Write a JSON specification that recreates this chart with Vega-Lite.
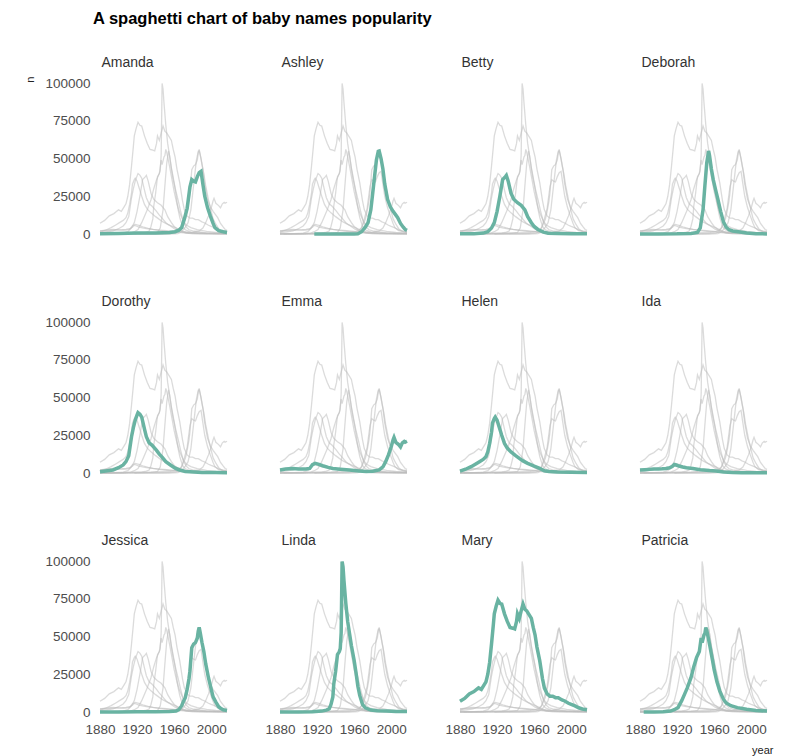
{
  "$schema": "https://vega.github.io/schema/vega-lite/v6.json",
  "padding": {"left": 24, "top": 10, "right": 8, "bottom": 4},
  "background": "white",
  "title": {"text": "A spaghetti chart of baby names popularity", "fontSize": 16.5, "fontWeight": "bold", "color": "#000000", "anchor": "start", "frame": "group", "dx": -7, "offset": 28},
  "data": {"values": [
    {"name":"Amanda","year":1880,"n":200},{"name":"Amanda","year":1900,"n":300},{"name":"Amanda","year":1920,"n":600},{"name":"Amanda","year":1940,"n":700},{"name":"Amanda","year":1955,"n":1000},{"name":"Amanda","year":1961,"n":1500},{"name":"Amanda","year":1965,"n":2500},{"name":"Amanda","year":1968,"n":4200},{"name":"Amanda","year":1971,"n":10000},{"name":"Amanda","year":1974,"n":17000},{"name":"Amanda","year":1977,"n":31000},{"name":"Amanda","year":1979,"n":36000},{"name":"Amanda","year":1981,"n":35000},{"name":"Amanda","year":1983,"n":34500},{"name":"Amanda","year":1985,"n":38000},{"name":"Amanda","year":1987,"n":40600},{"name":"Amanda","year":1989,"n":41500},{"name":"Amanda","year":1991,"n":33000},{"name":"Amanda","year":1993,"n":25000},{"name":"Amanda","year":1996,"n":17500},{"name":"Amanda","year":1999,"n":12000},{"name":"Amanda","year":2002,"n":7000},{"name":"Amanda","year":2004,"n":4200},{"name":"Amanda","year":2008,"n":2200},{"name":"Amanda","year":2013,"n":1500},{"name":"Amanda","year":2017,"n":1000},
    {"name":"Ashley","year":1917,"n":5},{"name":"Ashley","year":1930,"n":10},{"name":"Ashley","year":1950,"n":15},{"name":"Ashley","year":1960,"n":50},{"name":"Ashley","year":1964,"n":200},{"name":"Ashley","year":1968,"n":1500},{"name":"Ashley","year":1972,"n":4500},{"name":"Ashley","year":1975,"n":7500},{"name":"Ashley","year":1978,"n":16000},{"name":"Ashley","year":1980,"n":27000},{"name":"Ashley","year":1982,"n":38000},{"name":"Ashley","year":1984,"n":49000},{"name":"Ashley","year":1986,"n":54800},{"name":"Ashley","year":1987,"n":55000},{"name":"Ashley","year":1989,"n":50000},{"name":"Ashley","year":1991,"n":43000},{"name":"Ashley","year":1993,"n":33000},{"name":"Ashley","year":1996,"n":23000},{"name":"Ashley","year":1999,"n":18000},{"name":"Ashley","year":2002,"n":15000},{"name":"Ashley","year":2005,"n":12500},{"name":"Ashley","year":2007,"n":10800},{"name":"Ashley","year":2010,"n":7000},{"name":"Ashley","year":2013,"n":4500},{"name":"Ashley","year":2015,"n":3000},{"name":"Ashley","year":2017,"n":2400},
    {"name":"Betty","year":1880,"n":100},{"name":"Betty","year":1895,"n":200},{"name":"Betty","year":1905,"n":600},{"name":"Betty","year":1910,"n":1500},{"name":"Betty","year":1914,"n":4000},{"name":"Betty","year":1917,"n":7500},{"name":"Betty","year":1920,"n":15000},{"name":"Betty","year":1923,"n":25000},{"name":"Betty","year":1926,"n":36000},{"name":"Betty","year":1929,"n":38000},{"name":"Betty","year":1930,"n":38800},{"name":"Betty","year":1932,"n":35000},{"name":"Betty","year":1935,"n":27000},{"name":"Betty","year":1938,"n":23000},{"name":"Betty","year":1942,"n":20700},{"name":"Betty","year":1946,"n":19000},{"name":"Betty","year":1950,"n":16000},{"name":"Betty","year":1953,"n":11500},{"name":"Betty","year":1957,"n":7500},{"name":"Betty","year":1960,"n":5000},{"name":"Betty","year":1964,"n":3000},{"name":"Betty","year":1970,"n":1200},{"name":"Betty","year":1975,"n":500},{"name":"Betty","year":1985,"n":300},{"name":"Betty","year":2000,"n":150},{"name":"Betty","year":2017,"n":100},
    {"name":"Deborah","year":1880,"n":5},{"name":"Deborah","year":1900,"n":10},{"name":"Deborah","year":1920,"n":100},{"name":"Deborah","year":1935,"n":400},{"name":"Deborah","year":1942,"n":1000},{"name":"Deborah","year":1945,"n":4000},{"name":"Deborah","year":1948,"n":16000},{"name":"Deborah","year":1950,"n":32000},{"name":"Deborah","year":1952,"n":47000},{"name":"Deborah","year":1954,"n":55000},{"name":"Deborah","year":1955,"n":52000},{"name":"Deborah","year":1957,"n":43000},{"name":"Deborah","year":1959,"n":36000},{"name":"Deborah","year":1962,"n":28000},{"name":"Deborah","year":1964,"n":23000},{"name":"Deborah","year":1967,"n":15000},{"name":"Deborah","year":1970,"n":8000},{"name":"Deborah","year":1973,"n":4500},{"name":"Deborah","year":1976,"n":2800},{"name":"Deborah","year":1980,"n":2000},{"name":"Deborah","year":1986,"n":1500},{"name":"Deborah","year":1995,"n":600},{"name":"Deborah","year":2005,"n":200},{"name":"Deborah","year":2017,"n":80},
    {"name":"Dorothy","year":1880,"n":900},{"name":"Dorothy","year":1888,"n":1500},{"name":"Dorothy","year":1894,"n":2000},{"name":"Dorothy","year":1900,"n":3500},{"name":"Dorothy","year":1905,"n":5300},{"name":"Dorothy","year":1908,"n":7500},{"name":"Dorothy","year":1911,"n":11500},{"name":"Dorothy","year":1914,"n":24000},{"name":"Dorothy","year":1916,"n":30000},{"name":"Dorothy","year":1918,"n":35000},{"name":"Dorothy","year":1920,"n":38500},{"name":"Dorothy","year":1921,"n":40000},{"name":"Dorothy","year":1923,"n":39000},{"name":"Dorothy","year":1925,"n":37000},{"name":"Dorothy","year":1928,"n":29000},{"name":"Dorothy","year":1930,"n":24000},{"name":"Dorothy","year":1933,"n":20000},{"name":"Dorothy","year":1936,"n":18500},{"name":"Dorothy","year":1941,"n":15000},{"name":"Dorothy","year":1944,"n":12500},{"name":"Dorothy","year":1947,"n":10500},{"name":"Dorothy","year":1951,"n":7500},{"name":"Dorothy","year":1956,"n":5300},{"name":"Dorothy","year":1961,"n":3200},{"name":"Dorothy","year":1966,"n":2000},{"name":"Dorothy","year":1972,"n":1000},{"name":"Dorothy","year":1977,"n":800},{"name":"Dorothy","year":1990,"n":400},{"name":"Dorothy","year":2005,"n":250},{"name":"Dorothy","year":2017,"n":200},
    {"name":"Emma","year":1880,"n":2000},{"name":"Emma","year":1886,"n":2600},{"name":"Emma","year":1894,"n":3000},{"name":"Emma","year":1900,"n":2700},{"name":"Emma","year":1908,"n":2600},{"name":"Emma","year":1912,"n":3000},{"name":"Emma","year":1915,"n":5500},{"name":"Emma","year":1918,"n":6400},{"name":"Emma","year":1922,"n":5700},{"name":"Emma","year":1926,"n":4800},{"name":"Emma","year":1932,"n":3700},{"name":"Emma","year":1937,"n":3000},{"name":"Emma","year":1945,"n":2500},{"name":"Emma","year":1955,"n":2000},{"name":"Emma","year":1965,"n":1400},{"name":"Emma","year":1973,"n":1000},{"name":"Emma","year":1980,"n":1200},{"name":"Emma","year":1987,"n":2000},{"name":"Emma","year":1991,"n":4000},{"name":"Emma","year":1994,"n":7500},{"name":"Emma","year":1997,"n":12000},{"name":"Emma","year":2000,"n":17400},{"name":"Emma","year":2002,"n":22000},{"name":"Emma","year":2003,"n":23600},{"name":"Emma","year":2005,"n":20300},{"name":"Emma","year":2008,"n":18800},{"name":"Emma","year":2010,"n":17300},{"name":"Emma","year":2012,"n":20000},{"name":"Emma","year":2014,"n":20900},{"name":"Emma","year":2015,"n":20400},{"name":"Emma","year":2017,"n":21000},
    {"name":"Helen","year":1880,"n":1200},{"name":"Helen","year":1886,"n":2500},{"name":"Helen","year":1892,"n":4200},{"name":"Helen","year":1897,"n":6000},{"name":"Helen","year":1901,"n":7500},{"name":"Helen","year":1905,"n":9000},{"name":"Helen","year":1908,"n":10800},{"name":"Helen","year":1910,"n":14000},{"name":"Helen","year":1912,"n":19600},{"name":"Helen","year":1914,"n":27000},{"name":"Helen","year":1915,"n":33000},{"name":"Helen","year":1917,"n":36000},{"name":"Helen","year":1918,"n":37000},{"name":"Helen","year":1920,"n":35000},{"name":"Helen","year":1922,"n":31000},{"name":"Helen","year":1925,"n":25000},{"name":"Helen","year":1928,"n":19600},{"name":"Helen","year":1931,"n":16500},{"name":"Helen","year":1935,"n":14000},{"name":"Helen","year":1940,"n":11500},{"name":"Helen","year":1944,"n":9700},{"name":"Helen","year":1948,"n":8000},{"name":"Helen","year":1953,"n":6400},{"name":"Helen","year":1960,"n":4500},{"name":"Helen","year":1966,"n":3000},{"name":"Helen","year":1971,"n":1500},{"name":"Helen","year":1976,"n":1000},{"name":"Helen","year":1985,"n":700},{"name":"Helen","year":2000,"n":500},{"name":"Helen","year":2017,"n":400},
    {"name":"Ida","year":1880,"n":2000},{"name":"Ida","year":1885,"n":2200},{"name":"Ida","year":1890,"n":2400},{"name":"Ida","year":1895,"n":2600},{"name":"Ida","year":1900,"n":2700},{"name":"Ida","year":1904,"n":2800},{"name":"Ida","year":1908,"n":3000},{"name":"Ida","year":1912,"n":3500},{"name":"Ida","year":1915,"n":4500},{"name":"Ida","year":1917,"n":5700},{"name":"Ida","year":1919,"n":5300},{"name":"Ida","year":1922,"n":4600},{"name":"Ida","year":1926,"n":4000},{"name":"Ida","year":1930,"n":3500},{"name":"Ida","year":1937,"n":3000},{"name":"Ida","year":1945,"n":2200},{"name":"Ida","year":1955,"n":1600},{"name":"Ida","year":1962,"n":1300},{"name":"Ida","year":1970,"n":700},{"name":"Ida","year":1980,"n":300},{"name":"Ida","year":1990,"n":150},{"name":"Ida","year":2000,"n":100},{"name":"Ida","year":2010,"n":100},{"name":"Ida","year":2017,"n":150},
    {"name":"Jessica","year":1880,"n":50},{"name":"Jessica","year":1900,"n":50},{"name":"Jessica","year":1920,"n":100},{"name":"Jessica","year":1940,"n":150},{"name":"Jessica","year":1955,"n":300},{"name":"Jessica","year":1962,"n":600},{"name":"Jessica","year":1965,"n":1500},{"name":"Jessica","year":1968,"n":4000},{"name":"Jessica","year":1970,"n":7000},{"name":"Jessica","year":1972,"n":9500},{"name":"Jessica","year":1974,"n":15000},{"name":"Jessica","year":1976,"n":22000},{"name":"Jessica","year":1977,"n":27000},{"name":"Jessica","year":1979,"n":42600},{"name":"Jessica","year":1981,"n":45000},{"name":"Jessica","year":1983,"n":46000},{"name":"Jessica","year":1985,"n":49000},{"name":"Jessica","year":1986,"n":53600},{"name":"Jessica","year":1987,"n":56000},{"name":"Jessica","year":1988,"n":53000},{"name":"Jessica","year":1990,"n":46000},{"name":"Jessica","year":1992,"n":40000},{"name":"Jessica","year":1994,"n":32000},{"name":"Jessica","year":1997,"n":22700},{"name":"Jessica","year":2000,"n":15000},{"name":"Jessica","year":2002,"n":10000},{"name":"Jessica","year":2005,"n":6500},{"name":"Jessica","year":2008,"n":3500},{"name":"Jessica","year":2010,"n":2500},{"name":"Jessica","year":2013,"n":1500},{"name":"Jessica","year":2017,"n":1000},
    {"name":"Linda","year":1880,"n":30},{"name":"Linda","year":1900,"n":60},{"name":"Linda","year":1915,"n":200},{"name":"Linda","year":1925,"n":600},{"name":"Linda","year":1930,"n":1200},{"name":"Linda","year":1933,"n":2000},{"name":"Linda","year":1935,"n":5000},{"name":"Linda","year":1937,"n":10000},{"name":"Linda","year":1938,"n":18500},{"name":"Linda","year":1940,"n":27000},{"name":"Linda","year":1942,"n":38000},{"name":"Linda","year":1944,"n":40000},{"name":"Linda","year":1945,"n":42000},{"name":"Linda","year":1946,"n":52700},{"name":"Linda","year":1947,"n":99700},{"name":"Linda","year":1948,"n":96000},{"name":"Linda","year":1949,"n":87000},{"name":"Linda","year":1951,"n":72000},{"name":"Linda","year":1953,"n":60000},{"name":"Linda","year":1955,"n":52000},{"name":"Linda","year":1957,"n":44000},{"name":"Linda","year":1960,"n":34000},{"name":"Linda","year":1962,"n":26000},{"name":"Linda","year":1964,"n":17000},{"name":"Linda","year":1966,"n":11000},{"name":"Linda","year":1969,"n":5000},{"name":"Linda","year":1972,"n":2800},{"name":"Linda","year":1978,"n":1300},{"name":"Linda","year":1985,"n":900},{"name":"Linda","year":1995,"n":600},{"name":"Linda","year":2005,"n":400},{"name":"Linda","year":2017,"n":250},
    {"name":"Mary","year":1880,"n":7100},{"name":"Mary","year":1885,"n":9000},{"name":"Mary","year":1890,"n":12000},{"name":"Mary","year":1895,"n":13500},{"name":"Mary","year":1900,"n":16000},{"name":"Mary","year":1903,"n":15000},{"name":"Mary","year":1906,"n":18000},{"name":"Mary","year":1908,"n":20000},{"name":"Mary","year":1910,"n":25000},{"name":"Mary","year":1912,"n":33000},{"name":"Mary","year":1914,"n":45000},{"name":"Mary","year":1916,"n":58000},{"name":"Mary","year":1917,"n":65000},{"name":"Mary","year":1919,"n":70000},{"name":"Mary","year":1921,"n":74000},{"name":"Mary","year":1923,"n":72000},{"name":"Mary","year":1925,"n":71500},{"name":"Mary","year":1928,"n":65000},{"name":"Mary","year":1931,"n":60000},{"name":"Mary","year":1934,"n":56000},{"name":"Mary","year":1937,"n":55500},{"name":"Mary","year":1939,"n":55000},{"name":"Mary","year":1941,"n":60000},{"name":"Mary","year":1942,"n":65000},{"name":"Mary","year":1944,"n":62000},{"name":"Mary","year":1946,"n":67000},{"name":"Mary","year":1948,"n":71500},{"name":"Mary","year":1950,"n":68000},{"name":"Mary","year":1952,"n":67000},{"name":"Mary","year":1955,"n":64000},{"name":"Mary","year":1957,"n":62000},{"name":"Mary","year":1959,"n":56000},{"name":"Mary","year":1961,"n":51000},{"name":"Mary","year":1963,"n":43000},{"name":"Mary","year":1966,"n":34000},{"name":"Mary","year":1969,"n":22000},{"name":"Mary","year":1971,"n":16000},{"name":"Mary","year":1974,"n":12000},{"name":"Mary","year":1977,"n":10500},{"name":"Mary","year":1980,"n":10500},{"name":"Mary","year":1983,"n":9500},{"name":"Mary","year":1986,"n":9500},{"name":"Mary","year":1990,"n":8000},{"name":"Mary","year":1993,"n":7300},{"name":"Mary","year":1997,"n":5800},{"name":"Mary","year":2000,"n":5000},{"name":"Mary","year":2004,"n":4000},{"name":"Mary","year":2008,"n":2800},{"name":"Mary","year":2012,"n":2000},{"name":"Mary","year":2015,"n":1700},{"name":"Mary","year":2017,"n":1500},
    {"name":"Patricia","year":1884,"n":10},{"name":"Patricia","year":1895,"n":30},{"name":"Patricia","year":1905,"n":150},{"name":"Patricia","year":1913,"n":600},{"name":"Patricia","year":1917,"n":1500},{"name":"Patricia","year":1921,"n":2900},{"name":"Patricia","year":1925,"n":7500},{"name":"Patricia","year":1928,"n":11700},{"name":"Patricia","year":1931,"n":16000},{"name":"Patricia","year":1935,"n":22700},{"name":"Patricia","year":1938,"n":30000},{"name":"Patricia","year":1941,"n":36000},{"name":"Patricia","year":1944,"n":40000},{"name":"Patricia","year":1946,"n":49000},{"name":"Patricia","year":1947,"n":46000},{"name":"Patricia","year":1949,"n":51000},{"name":"Patricia","year":1950,"n":52000},{"name":"Patricia","year":1951,"n":56000},{"name":"Patricia","year":1952,"n":54000},{"name":"Patricia","year":1955,"n":45000},{"name":"Patricia","year":1958,"n":35000},{"name":"Patricia","year":1960,"n":28000},{"name":"Patricia","year":1963,"n":20000},{"name":"Patricia","year":1966,"n":14000},{"name":"Patricia","year":1970,"n":8500},{"name":"Patricia","year":1973,"n":6000},{"name":"Patricia","year":1978,"n":4200},{"name":"Patricia","year":1985,"n":2900},{"name":"Patricia","year":1995,"n":1800},{"name":"Patricia","year":2005,"n":1000},{"name":"Patricia","year":2017,"n":600}
  ]},
  "columns": 4,
  "bounds": "flush",
  "spacing": {"column": 53, "row": 88},
  "concat": [
    {"width": 127, "height": 151,
     "encoding": {"x": {"field": "year", "type": "quantitative", "scale": {"domain": [1880, 2017], "nice": false, "zero": false}, "axis": {"orient": "top", "labels": false, "title": "n", "titleX": -70, "titleY": -7, "titleAlign": "right", "titleBaseline": "middle", "titleAngle": 270, "titleFontSize": 11, "titleColor": "#222222"}},
                  "y": {"field": "n", "type": "quantitative", "scale": {"domain": [0, 100000], "nice": false}, "axis": {"title": "Amanda", "values": [0, 25000, 50000, 75000, 100000], "format": "d"}}},
     "layer": [
       {"mark": {"type": "line", "color": "#bebebe", "opacity": 0.55, "strokeWidth": 1.3}, "encoding": {"detail": {"field": "name"}}},
       {"transform": [{"filter": "datum.name === 'Amanda'"}], "mark": {"type": "line", "color": "#69b3a2", "strokeWidth": 3.5}}
     ]},
    {"width": 127, "height": 151,
     "encoding": {"x": {"field": "year", "type": "quantitative", "scale": {"domain": [1880, 2017], "nice": false, "zero": false}, "axis": null},
                  "y": {"field": "n", "type": "quantitative", "scale": {"domain": [0, 100000], "nice": false}, "axis": {"title": "Ashley", "labels": false}}},
     "layer": [
       {"mark": {"type": "line", "color": "#bebebe", "opacity": 0.55, "strokeWidth": 1.3}, "encoding": {"detail": {"field": "name"}}},
       {"transform": [{"filter": "datum.name === 'Ashley'"}], "mark": {"type": "line", "color": "#69b3a2", "strokeWidth": 3.5}}
     ]},
    {"width": 127, "height": 151,
     "encoding": {"x": {"field": "year", "type": "quantitative", "scale": {"domain": [1880, 2017], "nice": false, "zero": false}, "axis": null},
                  "y": {"field": "n", "type": "quantitative", "scale": {"domain": [0, 100000], "nice": false}, "axis": {"title": "Betty", "labels": false}}},
     "layer": [
       {"mark": {"type": "line", "color": "#bebebe", "opacity": 0.55, "strokeWidth": 1.3}, "encoding": {"detail": {"field": "name"}}},
       {"transform": [{"filter": "datum.name === 'Betty'"}], "mark": {"type": "line", "color": "#69b3a2", "strokeWidth": 3.5}}
     ]},
    {"width": 127, "height": 151,
     "encoding": {"x": {"field": "year", "type": "quantitative", "scale": {"domain": [1880, 2017], "nice": false, "zero": false}, "axis": null},
                  "y": {"field": "n", "type": "quantitative", "scale": {"domain": [0, 100000], "nice": false}, "axis": {"title": "Deborah", "labels": false}}},
     "layer": [
       {"mark": {"type": "line", "color": "#bebebe", "opacity": 0.55, "strokeWidth": 1.3}, "encoding": {"detail": {"field": "name"}}},
       {"transform": [{"filter": "datum.name === 'Deborah'"}], "mark": {"type": "line", "color": "#69b3a2", "strokeWidth": 3.5}}
     ]},
    {"width": 127, "height": 151,
     "encoding": {"x": {"field": "year", "type": "quantitative", "scale": {"domain": [1880, 2017], "nice": false, "zero": false}, "axis": null},
                  "y": {"field": "n", "type": "quantitative", "scale": {"domain": [0, 100000], "nice": false}, "axis": {"title": "Dorothy", "values": [0, 25000, 50000, 75000, 100000], "format": "d"}}},
     "layer": [
       {"mark": {"type": "line", "color": "#bebebe", "opacity": 0.55, "strokeWidth": 1.3}, "encoding": {"detail": {"field": "name"}}},
       {"transform": [{"filter": "datum.name === 'Dorothy'"}], "mark": {"type": "line", "color": "#69b3a2", "strokeWidth": 3.5}}
     ]},
    {"width": 127, "height": 151,
     "encoding": {"x": {"field": "year", "type": "quantitative", "scale": {"domain": [1880, 2017], "nice": false, "zero": false}, "axis": null},
                  "y": {"field": "n", "type": "quantitative", "scale": {"domain": [0, 100000], "nice": false}, "axis": {"title": "Emma", "labels": false}}},
     "layer": [
       {"mark": {"type": "line", "color": "#bebebe", "opacity": 0.55, "strokeWidth": 1.3}, "encoding": {"detail": {"field": "name"}}},
       {"transform": [{"filter": "datum.name === 'Emma'"}], "mark": {"type": "line", "color": "#69b3a2", "strokeWidth": 3.5}}
     ]},
    {"width": 127, "height": 151,
     "encoding": {"x": {"field": "year", "type": "quantitative", "scale": {"domain": [1880, 2017], "nice": false, "zero": false}, "axis": null},
                  "y": {"field": "n", "type": "quantitative", "scale": {"domain": [0, 100000], "nice": false}, "axis": {"title": "Helen", "labels": false}}},
     "layer": [
       {"mark": {"type": "line", "color": "#bebebe", "opacity": 0.55, "strokeWidth": 1.3}, "encoding": {"detail": {"field": "name"}}},
       {"transform": [{"filter": "datum.name === 'Helen'"}], "mark": {"type": "line", "color": "#69b3a2", "strokeWidth": 3.5}}
     ]},
    {"width": 127, "height": 151,
     "encoding": {"x": {"field": "year", "type": "quantitative", "scale": {"domain": [1880, 2017], "nice": false, "zero": false}, "axis": null},
                  "y": {"field": "n", "type": "quantitative", "scale": {"domain": [0, 100000], "nice": false}, "axis": {"title": "Ida", "labels": false}}},
     "layer": [
       {"mark": {"type": "line", "color": "#bebebe", "opacity": 0.55, "strokeWidth": 1.3}, "encoding": {"detail": {"field": "name"}}},
       {"transform": [{"filter": "datum.name === 'Ida'"}], "mark": {"type": "line", "color": "#69b3a2", "strokeWidth": 3.5}}
     ]},
    {"width": 127, "height": 151,
     "encoding": {"x": {"field": "year", "type": "quantitative", "scale": {"domain": [1880, 2017], "nice": false, "zero": false}, "axis": {"title": null, "values": [1880, 1920, 1960, 2000], "format": "d"}},
                  "y": {"field": "n", "type": "quantitative", "scale": {"domain": [0, 100000], "nice": false}, "axis": {"title": "Jessica", "values": [0, 25000, 50000, 75000, 100000], "format": "d"}}},
     "layer": [
       {"mark": {"type": "line", "color": "#bebebe", "opacity": 0.55, "strokeWidth": 1.3}, "encoding": {"detail": {"field": "name"}}},
       {"transform": [{"filter": "datum.name === 'Jessica'"}], "mark": {"type": "line", "color": "#69b3a2", "strokeWidth": 3.5}}
     ]},
    {"width": 127, "height": 151,
     "encoding": {"x": {"field": "year", "type": "quantitative", "scale": {"domain": [1880, 2017], "nice": false, "zero": false}, "axis": {"title": null, "values": [1880, 1920, 1960, 2000], "format": "d"}},
                  "y": {"field": "n", "type": "quantitative", "scale": {"domain": [0, 100000], "nice": false}, "axis": {"title": "Linda", "labels": false}}},
     "layer": [
       {"mark": {"type": "line", "color": "#bebebe", "opacity": 0.55, "strokeWidth": 1.3}, "encoding": {"detail": {"field": "name"}}},
       {"transform": [{"filter": "datum.name === 'Linda'"}], "mark": {"type": "line", "color": "#69b3a2", "strokeWidth": 3.5}}
     ]},
    {"width": 127, "height": 151,
     "encoding": {"x": {"field": "year", "type": "quantitative", "scale": {"domain": [1880, 2017], "nice": false, "zero": false}, "axis": {"title": null, "values": [1880, 1920, 1960, 2000], "format": "d"}},
                  "y": {"field": "n", "type": "quantitative", "scale": {"domain": [0, 100000], "nice": false}, "axis": {"title": "Mary", "labels": false}}},
     "layer": [
       {"mark": {"type": "line", "color": "#bebebe", "opacity": 0.55, "strokeWidth": 1.3}, "encoding": {"detail": {"field": "name"}}},
       {"transform": [{"filter": "datum.name === 'Mary'"}], "mark": {"type": "line", "color": "#69b3a2", "strokeWidth": 3.5}}
     ]},
    {"width": 127, "height": 151,
     "encoding": {"x": {"field": "year", "type": "quantitative", "scale": {"domain": [1880, 2017], "nice": false, "zero": false}, "axis": {"title": "year", "values": [1880, 1920, 1960, 2000], "format": "d", "titleX": 133, "titleY": 38, "titleAlign": "right", "titleBaseline": "middle"}},
                  "y": {"field": "n", "type": "quantitative", "scale": {"domain": [0, 100000], "nice": false}, "axis": {"title": "Patricia", "labels": false}}},
     "layer": [
       {"mark": {"type": "line", "color": "#bebebe", "opacity": 0.55, "strokeWidth": 1.3}, "encoding": {"detail": {"field": "name"}}},
       {"transform": [{"filter": "datum.name === 'Patricia'"}], "mark": {"type": "line", "color": "#69b3a2", "strokeWidth": 3.5}}
     ]}
  ],
  "config": {
    "font": "Liberation Sans",
    "view": {"stroke": null},
    "axis": {"domain": false, "ticks": false, "grid": false, "labelOverlap": false, "labelFlush": false, "labelFont": "Liberation Sans", "labelFontSize": 13.5, "labelColor": "#4d4d4d", "labelPadding": 10, "titleFont": "Liberation Sans", "titleFontSize": 11, "titleFontWeight": "normal", "titleColor": "#222222"},
    "axisY": {"titleAngle": 0, "titleX": 1, "titleY": -17, "titleAlign": "left", "titleBaseline": "alphabetic", "titleFontSize": 14, "titleColor": "#333333"},
    "title": {"font": "Liberation Sans", "fontSize": 14, "fontWeight": "normal", "color": "#333333", "anchor": "start"}
  }
}
